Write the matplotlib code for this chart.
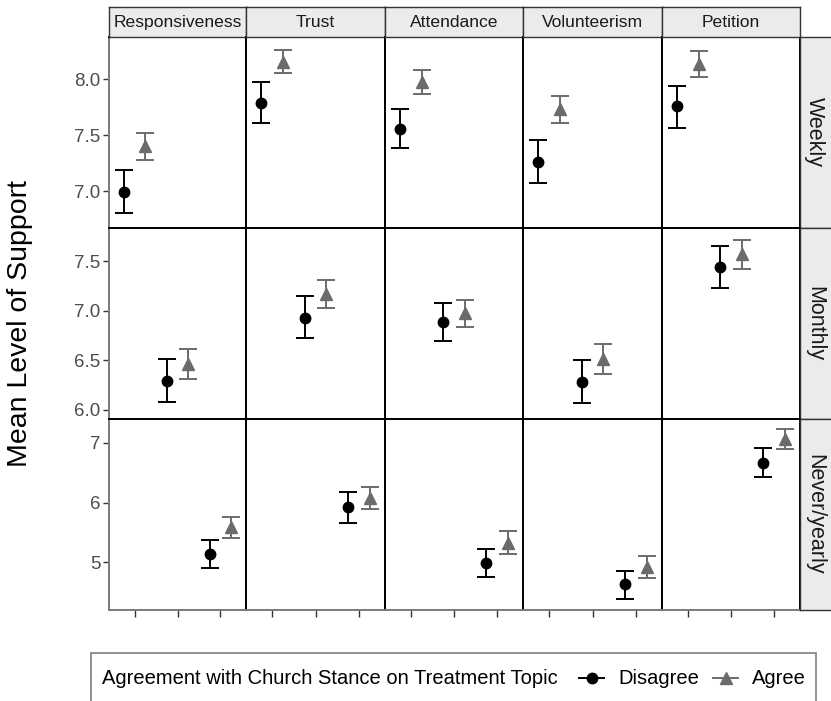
import matplotlib
matplotlib.use("Agg")
import matplotlib.pyplot as plt
from matplotlib.lines import Line2D
from matplotlib.patches import Rectangle

plt.rcParams["font.family"] = ["Liberation Sans", "DejaVu Sans"]

topics = ["Responsiveness", "Trust", "Attendance", "Volunteerism", "Petition"]
frequencies = ["Weekly", "Monthly", "Never/yearly"]
legend_title = "Agreement with Church Stance on Treatment Topic"
group_labels = ["Disagree", "Agree"]

# mean support and 95% interval, one row per attendance frequency
disagree_mean = [
    [6.99, 7.79, 7.55, 7.26, 7.755],
    [6.29, 6.93, 6.89, 6.28, 7.445],
    [5.13, 5.92, 4.98, 4.63, 6.67],
]
disagree_lo = [
    [6.80, 7.61, 7.38, 7.07, 7.56],
    [6.08, 6.73, 6.70, 6.07, 7.23],
    [4.90, 5.665, 4.75, 4.39, 6.42],
]
disagree_hi = [
    [7.19, 7.975, 7.735, 7.455, 7.94],
    [6.515, 7.15, 7.08, 6.50, 7.655],
    [5.37, 6.17, 5.23, 4.86, 6.91],
]
agree_mean = [
    [7.40, 8.155, 7.97, 7.73, 8.135],
    [6.465, 7.17, 6.975, 6.515, 7.57],
    [5.585, 6.07, 5.33, 4.925, 7.07],
]
agree_lo = [
    [7.28, 8.05, 7.865, 7.61, 8.02],
    [6.315, 7.03, 6.84, 6.365, 7.425],
    [5.41, 5.885, 5.145, 4.74, 6.90],
]
agree_hi = [
    [7.52, 8.26, 8.08, 7.85, 8.25],
    [6.613, 7.31, 7.11, 6.667, 7.715],
    [5.76, 6.255, 5.52, 5.11, 7.24],
]

row_ticks = [[7.0, 7.5, 8.0], [6.0, 6.5, 7.0, 7.5], [5, 6, 7]]
row_ticklabels = [["7.0", "7.5", "8.0"], ["6.0", "6.5", "7.0", "7.5"], ["5", "6", "7"]]
row_limits = [(6.675, 8.375), (5.906, 7.843), (4.20, 7.40)]

W, H = 831, 701
fig = plt.figure(figsize=(W / 100, H / 100), dpi=100)


def add_px_axes(x0, y0, x1, y1, **kw):
    return fig.add_axes([x0 / W, 1 - y1 / H, (x1 - x0) / W, (y1 - y0) / H], **kw)


col_edges = [109, 246, 385, 523, 662, 800]
row_edges = [37, 227.5, 419, 610]
strip_top = 7
strip_right = 831

dodge = 0.25
disagree_color = "#000000"
agree_color = "#6b6b6b"
cap = 6.8
elw = 1.4
grey_axis = "#7a7a7a"

for r, freq in enumerate(frequencies):
    for c, topic in enumerate(topics):
        ax = add_px_axes(col_edges[c], row_edges[r], col_edges[c + 1], row_edges[r + 1])
        xpos = r + 1
        ax.errorbar([xpos - dodge], [disagree_mean[r][c]],
                    yerr=[[disagree_mean[r][c] - disagree_lo[r][c]],
                          [disagree_hi[r][c] - disagree_mean[r][c]]],
                    fmt="o", color=disagree_color, ms=7.5, capsize=cap,
                    elinewidth=elw, capthick=elw, zorder=3)
        ax.errorbar([xpos + dodge], [agree_mean[r][c]],
                    yerr=[[agree_mean[r][c] - agree_lo[r][c]],
                          [agree_hi[r][c] - agree_mean[r][c]]],
                    fmt="^", color=agree_color, ms=9, capsize=cap,
                    elinewidth=elw, capthick=elw, zorder=3)
        ax.set_xlim(0.4, 3.6)
        ax.set_ylim(*row_limits[r])
        for s in ax.spines.values():
            s.set_color("black")
            s.set_linewidth(1.4)
        if c == 0:
            ax.spines["left"].set_color(grey_axis)
            ax.set_yticks(row_ticks[r])
            ax.set_yticklabels(row_ticklabels[r])
            ax.tick_params(axis="y", length=4, width=1, color="#333333",
                           labelsize=13.5, labelcolor="#4d4d4d", pad=2)
        else:
            ax.set_yticks([])
        if r == 2:
            ax.spines["bottom"].set_color(grey_axis)
            ax.set_xticks([1, 2, 3])
            ax.set_xticklabels([])
            ax.tick_params(axis="x", length=5, width=1, color="#333333")
        else:
            ax.set_xticks([])

        # column strips along the top
        if r == 0:
            sx = add_px_axes(col_edges[c], strip_top, col_edges[c + 1], row_edges[0])
            sx.set_facecolor("#ebebeb")
            sx.set_xticks([])
            sx.set_yticks([])
            for s in sx.spines.values():
                s.set_color("#333333")
                s.set_linewidth(1.0)
            sx.text(0.5, 0.48, topic, ha="center", va="center", fontsize=12.6,
                    color="#1a1a1a", transform=sx.transAxes)

    # row strips along the right side
    rx = add_px_axes(col_edges[-1], row_edges[r], strip_right + 2, row_edges[r + 1])
    rx.set_facecolor("#ebebeb")
    rx.set_xticks([])
    rx.set_yticks([])
    for s in rx.spines.values():
        s.set_color("#333333")
        s.set_linewidth(1.0)
    rx.text(0.45, 0.5, freq, ha="center", va="center", rotation=-90,
            fontsize=15.5, color="#1a1a1a", transform=rx.transAxes)

fig.text(20 / W, 1 - 323.5 / H, "Mean Level of Support", rotation=90,
         ha="center", va="center", fontsize=20.5, color="black")

# legend box at the bottom
fig.patches.append(Rectangle((91 / W, 1 - 705 / H), (816 - 91) / W, (705 - 653) / H,
                             transform=fig.transFigure, fill=False,
                             edgecolor="#7f7f7f", linewidth=1.2))
ly = 1 - 678 / H
fig.text(102 / W, ly, legend_title, ha="left", va="center", fontsize=14.5, color="black")
for x0, x1, mk, col, lab, tx, ms in [(579, 604, "o", disagree_color, group_labels[0], 618, 7.5),
                                      (713, 738, "^", agree_color, group_labels[1], 752, 9)]:
    fig.add_artist(Line2D([x0 / W, x1 / W], [ly, ly], color=col, lw=1.4,
                          transform=fig.transFigure))
    fig.add_artist(Line2D([(x0 + x1) / 2 / W], [ly], marker=mk, color=col, ms=ms,
                          transform=fig.transFigure))
    fig.text(tx / W, ly, lab, ha="left", va="center", fontsize=14.5, color="black")

fig.savefig("out.png", dpi=100, facecolor="white")
